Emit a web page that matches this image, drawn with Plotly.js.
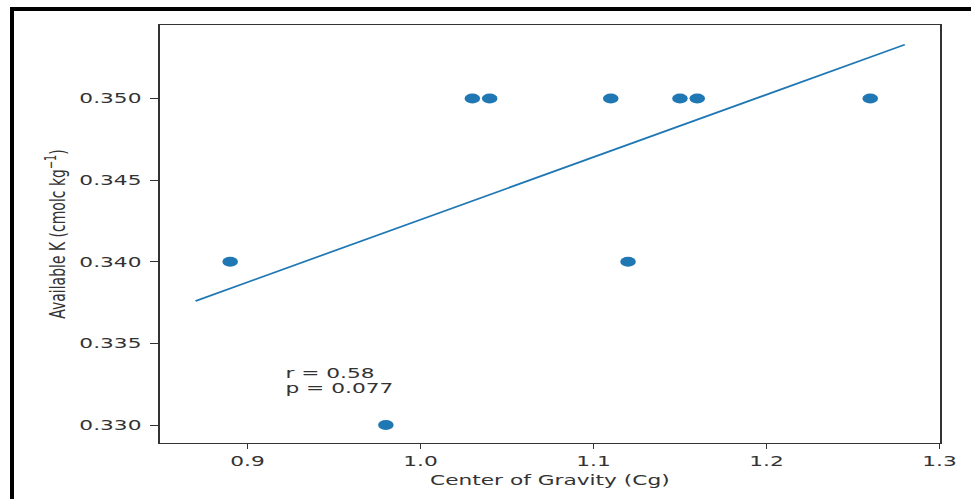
<!DOCTYPE html>
<html>
<head>
<meta charset="utf-8">
<script src="https://cdn.plot.ly/plotly-3.0.1.min.js"></script>
<style>
html, body { margin:0; padding:0; background:#fff; overflow:hidden; width:971px; height:499px; }
#frame { position:absolute; left:10px; top:7px; right:0; bottom:0; border-left:4px solid #000; border-top:4px solid #000; z-index:5; pointer-events:none; }
#wrap { position:absolute; left:0; top:0; width:626px; height:499px; transform:scaleX(1.5511); transform-origin:0 0; }
#chart { width:626px; height:499px; }
</style>
</head>
<body>
<div id="wrap"><div id="chart"></div></div>
<div id="frame"></div>
<script>
// Scatter data (Center of Gravity vs Available K)
var cgValues = [0.89, 0.98, 1.03, 1.04, 1.11, 1.12, 1.15, 1.16, 1.26];
var kValues  = [0.340, 0.330, 0.350, 0.350, 0.350, 0.340, 0.350, 0.350, 0.350];
// Fitted line endpoints
var fitX = [0.87, 1.28];
var fitY = [0.3376, 0.3533];
// Ticks
var xTicks = [0.9, 1.0, 1.1, 1.2, 1.3];
var xTickLabels = ["0.9", "1.0", "1.1", "1.2", "1.3"];
var yTicks = [0.330, 0.335, 0.340, 0.345, 0.350];
var yTickLabels = ["0.330", "0.335", "0.340", "0.345", "0.350"];
// Statistics text
var statLines = ["r = 0.58", "p = 0.077"];
var statPos = {x: 0.92, y: 0.332};

var blue = '#1f77b4';
var txt = '#333';
var fnt = 'DejaVu Sans, sans-serif';

var traces = [
  {x: cgValues, y: kValues, type: 'scatter', mode: 'markers',
   marker: {color: blue, size: 10, line: {width: 0}}, hoverinfo: 'skip'},
  {x: fitX, y: fitY, type: 'scatter', mode: 'lines',
   line: {color: blue, width: 1.6}, hoverinfo: 'skip'}
];

var axisCommon = {
  showgrid: false, zeroline: false, showline: true, mirror: true,
  linecolor: '#333', linewidth: 1, ticks: 'outside', ticklen: 5,
  tickwidth: 1, tickcolor: '#333',
  tickfont: {family: fnt, size: 14, color: txt}
};

var layout = {
  width: 626, height: 499, autosize: false,
  margin: {l: 103, r: 20, t: 25, b: 56, pad: 0},
  paper_bgcolor: '#fff', plot_bgcolor: '#fff',
  showlegend: false,
  xaxis: Object.assign({}, axisCommon, {
    range: [0.8493, 1.3003], tickmode: 'array', tickvals: xTicks, ticktext: xTickLabels,
    ticklabelstandoff: 0,
    title: {text: 'Center of Gravity (Cg)', font: {family: fnt, size: 14, color: txt}, standoff: 7}
  }),
  yaxis: Object.assign({}, axisCommon, {
    range: [0.3289, 0.3545], tickmode: 'array', tickvals: yTicks, ticktext: yTickLabels,
    ticklabelstandoff: 3,
    title: {text: 'Available K (cmolc kg<sup>\u22121</sup>)', font: {family: fnt, size: 14, color: txt}, standoff: 5}
  }),
  annotations: [
    {x: statPos.x, y: statPos.y, xref: 'x', yref: 'y', text: statLines[0], showarrow: false,
     xanchor: 'left', yanchor: 'bottom', yshift: 9, font: {family: fnt, size: 14, color: txt}},
    {x: statPos.x, y: statPos.y, xref: 'x', yref: 'y', text: statLines[1], showarrow: false,
     xanchor: 'left', yanchor: 'bottom', yshift: -6, font: {family: fnt, size: 14, color: txt}}
  ]
};

Plotly.newPlot('chart', traces, layout, {displayModeBar: false, staticPlot: true});
</script>
</body>
</html>
